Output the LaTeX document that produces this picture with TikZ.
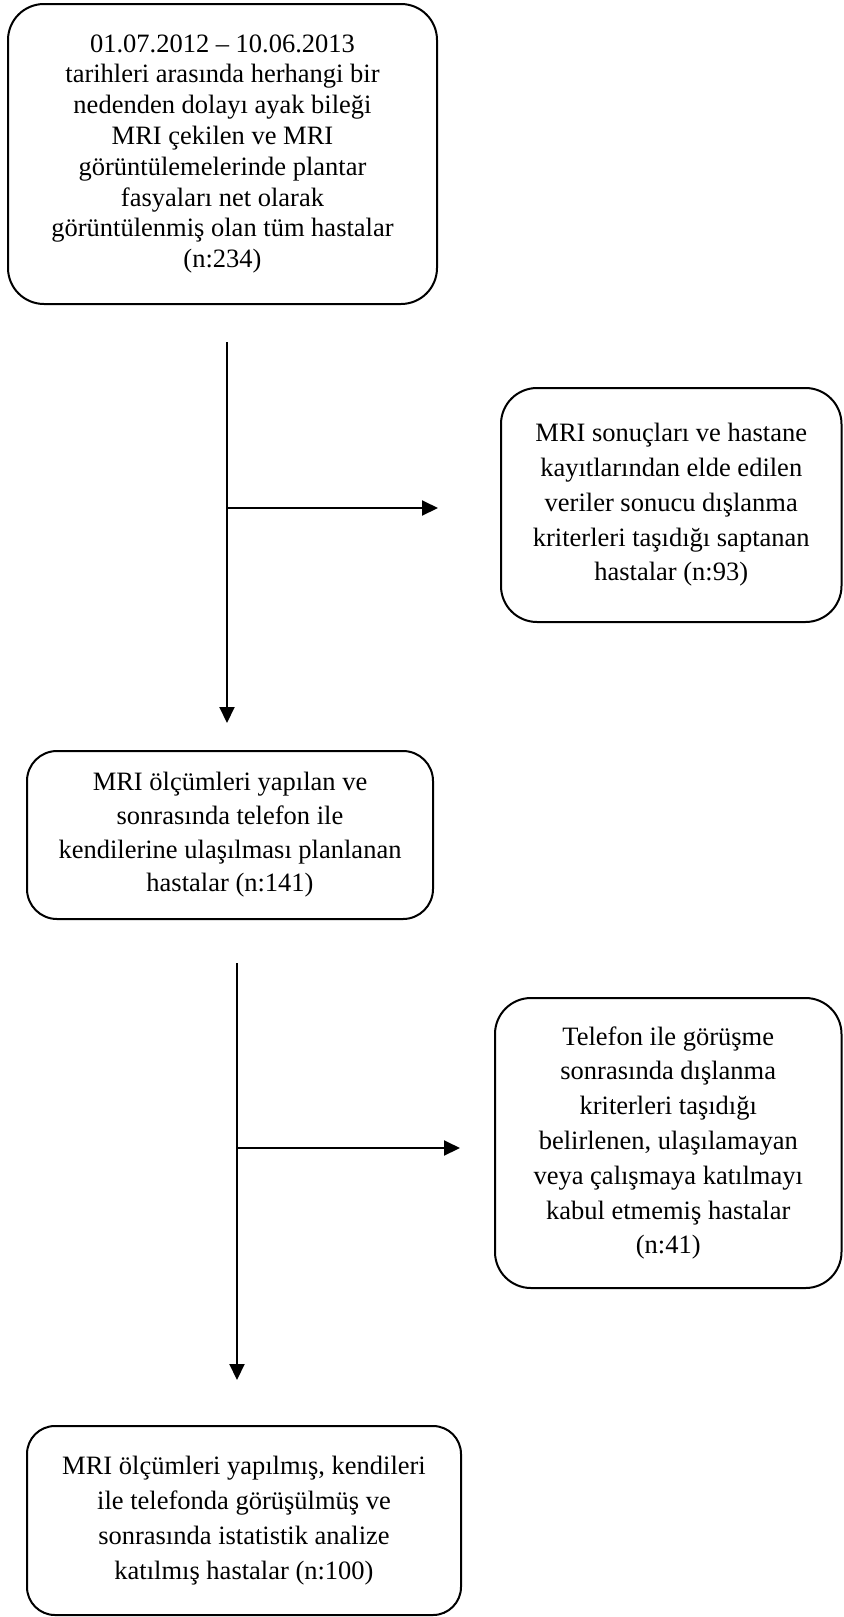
\documentclass[tikz,border=0pt]{standalone}
\usepackage{fontspec}
\setmainfont{Liberation Serif}
\usetikzlibrary{arrows.meta}

\begin{document}
\begin{tikzpicture}[x=0.5pt,y=-0.5pt,
  cadre/.style={draw,line width=1pt,rounded corners=18pt,align=center,inner sep=0pt,font=\fontsize{13.25}{17.4}\selectfont},
  fleche/.style={line width=1pt,-{Triangle[length=8pt,width=7.5pt]}}]
\useasboundingbox (0,0) rectangle (843,1617);

\node[cadre,minimum width=214.5pt,minimum height=150pt,font=\fontsize{13.25}{15.4}\selectfont] (tous) at (222.5,154)
  {01.07.2012 – 10.06.2013\\tarihleri arasında herhangi bir\\nedenden dolayı ayak bileği\\MRI çekilen ve MRI\\görüntülemelerinde plantar\\fasyaları net olarak\\görüntülenmiş olan tüm hastalar\\(n:234)};
\node[cadre,minimum width=170.25pt,minimum height=117pt] (exclus) at (671.25,505)
  {MRI sonuçları ve hastane\\kayıtlarından elde edilen\\veriler sonucu dışlanma\\kriterleri taşıdığı saptanan\\hastalar (n:93)};
\node[cadre,rounded corners=15pt,minimum width=203pt,minimum height=84pt,font=\fontsize{13.25}{16.8}\selectfont] (mesures) at (230,835)
  {MRI ölçümleri yapılan ve\\sonrasında telefon ile\\kendilerine ulaşılması planlanan\\hastalar (n:141)};
\node[cadre,minimum width=173.25pt,minimum height=145pt] (refus) at (668.25,1143)
  {Telefon ile görüşme\\sonrasında dışlanma\\kriterleri taşıdığı\\belirlenen, ulaşılamayan\\veya çalışmaya katılmayı\\kabul etmemiş hastalar\\(n:41)};
\node[cadre,rounded corners=14pt,minimum width=217pt,minimum height=94.5pt] (final) at (244,1520.5)
  {MRI ölçümleri yapılmış, kendileri\\ile telefonda görüşülmüş ve\\sonrasında istatistik analize\\katılmış hastalar (n:100)};

\coordinate (d1) at (227,342);
\coordinate (f1) at (227,723);
\coordinate (j1) at (227,508);
\coordinate (g1) at (438,508);
\coordinate (d2) at (237,963);
\coordinate (f2) at (237,1380);
\coordinate (j2) at (237,1148);
\coordinate (g2) at (460,1148);

\draw [fleche] (d1) -- (f1);
\draw [fleche] (j1) -- (g1);
\draw [fleche] (d2) -- (f2);
\draw [fleche] (j2) -- (g2);

\end{tikzpicture}
\end{document}
